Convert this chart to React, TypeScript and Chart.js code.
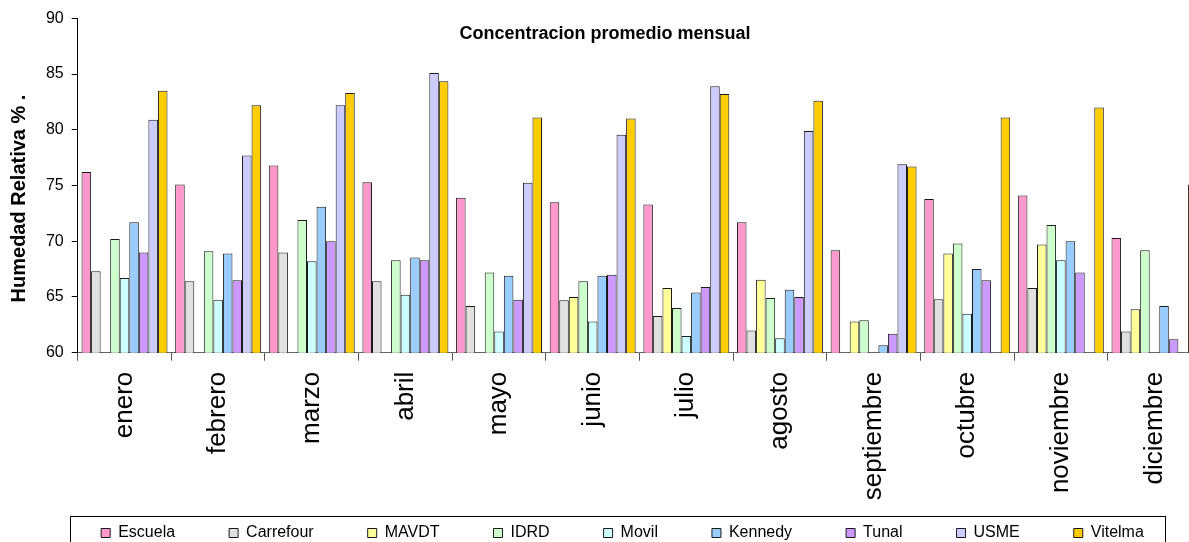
import React, { useEffect, useRef } from "react";
import { Chart, registerables } from "chart.js";

Chart.register(...registerables);

const FONT = '"Liberation Sans", Arial, Helvetica, sans-serif';

const months = ["enero", "febrero", "marzo", "abril", "mayo", "junio", "julio", "agosto", "septiembre", "octubre", "noviembre", "diciembre"];

const escuela = [76.2, 75.1, 76.8, 75.3, 73.9, 73.5, 73.3, 71.7, 69.2, 73.8, 74.1, 70.3];
const carrefour = [67.3, 66.4, 69.0, 66.4, 64.2, 64.7, 63.3, 62.0, null, 64.8, 65.8, 61.9];
const mavdt = [null, null, null, null, null, 65.0, 65.8, 66.55, 62.8, 68.9, 69.7, 63.9];
const idrd = [70.2, 69.1, 71.9, 68.3, 67.2, 66.4, 64.0, 64.9, 62.9, 69.8, 71.45, 69.2];
const movil = [66.7, 64.75, 68.2, 65.2, 61.9, 62.8, 61.5, 61.3, null, 63.5, 68.3, null];
const kennedy = [71.7, 68.9, 73.1, 68.55, 66.9, 66.9, 65.4, 65.65, 60.66, 67.5, 70.0, 64.2];
const tunal = [69.0, 66.5, 70.0, 68.3, 64.75, 67.0, 65.9, 65.0, 61.7, 66.5, 67.2, 61.2];
const usme = [80.9, 77.7, 82.2, 85.1, 75.25, 79.55, 83.9, 79.9, 76.9, null, null, null];
const vitelma = [83.5, 82.2, 83.3, 84.35, 81.1, 81.0, 83.2, 82.6, 76.7, 81.1, 82.0, 75.1];

const seriesNames = ["Escuela", "Carrefour", "MAVDT", "IDRD", "Movil", "Kennedy", "Tunal", "USME", "Vitelma"];
const seriesValues = [escuela, carrefour, mavdt, idrd, movil, kennedy, tunal, usme, vitelma];
const seriesColors = ["#FF99CC", "#E0E0E0", "#FFFF99", "#CCFFCC", "#CCFFFF", "#99CCFF", "#CC99FF", "#CCCCFF", "#FFCC00"];

const yMin = 60;
const yMax = 90;
const yStep = 5;

const chartTitle = "Concentracion promedio mensual";
const yTitle = "Humedad Relativa % .";

const decorPlugin = {
  id: "decor",
  afterLayout(chart: any) {
    const lg = chart.legend;
    if (lg) {
      const dx = 622.5 - (lg.left + lg.right) / 2;
      lg.left += dx;
      lg.right += dx;
      lg.top = 471;
      lg.bottom = chart.height + 20;
    }
  },
  afterDraw(chart: any) {
    const ctx = chart.ctx;
    const ca = chart.chartArea;
    ctx.save();
    ctx.fillStyle = "#000";
    ctx.font = `bold 18px ${FONT}`;
    ctx.textAlign = "center";
    ctx.textBaseline = "alphabetic";
    ctx.fillText(chartTitle, chart.width / 2, ca.top + 20.2);
    ctx.restore();

    ctx.save();
    ctx.fillStyle = "#000";
    ctx.translate(25, (ca.top + ca.bottom) / 2 + 13);
    ctx.rotate(-Math.PI / 2);
    ctx.font = `bold 20px ${FONT}`;
    ctx.textAlign = "center";
    ctx.textBaseline = "alphabetic";
    ctx.fillText(yTitle, 0, 0);
    ctx.restore();

    ctx.save();
    ctx.strokeStyle = "#000";
    ctx.lineWidth = 1;
    ctx.strokeRect(70.5, 516.5, 1095, 40);
    ctx.restore();
  },
};

export default function App() {
  const ref = useRef<HTMLCanvasElement | null>(null);

  useEffect(() => {
    if (!ref.current) return;
    const chart = new Chart(ref.current, {
      type: "bar",
      data: {
        labels: months,
        datasets: seriesNames.map((name, i) => ({
          label: name,
          data: seriesValues[i],
          backgroundColor: seriesColors[i],
          borderColor: "#1a1a1a",
          borderWidth: 1,
          categoryPercentage: 0.918,
          barPercentage: 1,
        })),
      },
      options: {
        animation: false,
        responsive: false,
        devicePixelRatio: 1,
        layout: { padding: { left: 0, right: 8.7, top: 18.3, bottom: 0 } },
        plugins: {
          title: { display: false },
          tooltip: { enabled: false },
          legend: {
            display: true,
            position: "bottom",
            maxHeight: 30,
            labels: {
              boxWidth: 9,
              boxHeight: 9,
              padding: 54,
              color: "#000",
              font: { size: 16, family: FONT },
            },
          },
        },
        scales: {
          x: {
            grid: { display: true, drawOnChartArea: false, drawTicks: true, tickLength: 8, color: "#555", offset: true },
            border: { display: true, color: "#666", width: 1 },
            ticks: {
              minRotation: 90,
              maxRotation: 90,
              autoSkip: false,
              padding: 11,
              color: "#000",
              font: { size: 26, family: FONT },
            },
            afterFit: (s: any) => {
              const lgH = s.chart.legend ? s.chart.legend.height : 0;
              s.height = 542 - 352.7 - lgH;
            },
          },
          y: {
            min: yMin,
            max: yMax,
            ticks: { stepSize: yStep, padding: 8, color: "#000", font: { size: 16, family: FONT } },
            grid: { display: true, drawOnChartArea: false, drawTicks: true, tickLength: 6, color: "#000" },
            border: { display: true, color: "#000", width: 1 },
            afterFit: (s: any) => {
              s.width = 77.7;
            },
          },
        },
      },
      plugins: [decorPlugin],
    });
    return () => chart.destroy();
  }, []);

  return (
    <div style={{ position: "fixed", left: 0, top: 0, width: 1189, height: 542, overflow: "hidden", background: "#fff" }}>
      <canvas ref={ref} width={1210} height={542} style={{ display: "block", width: 1210, height: 542 }} />
    </div>
  );
}
